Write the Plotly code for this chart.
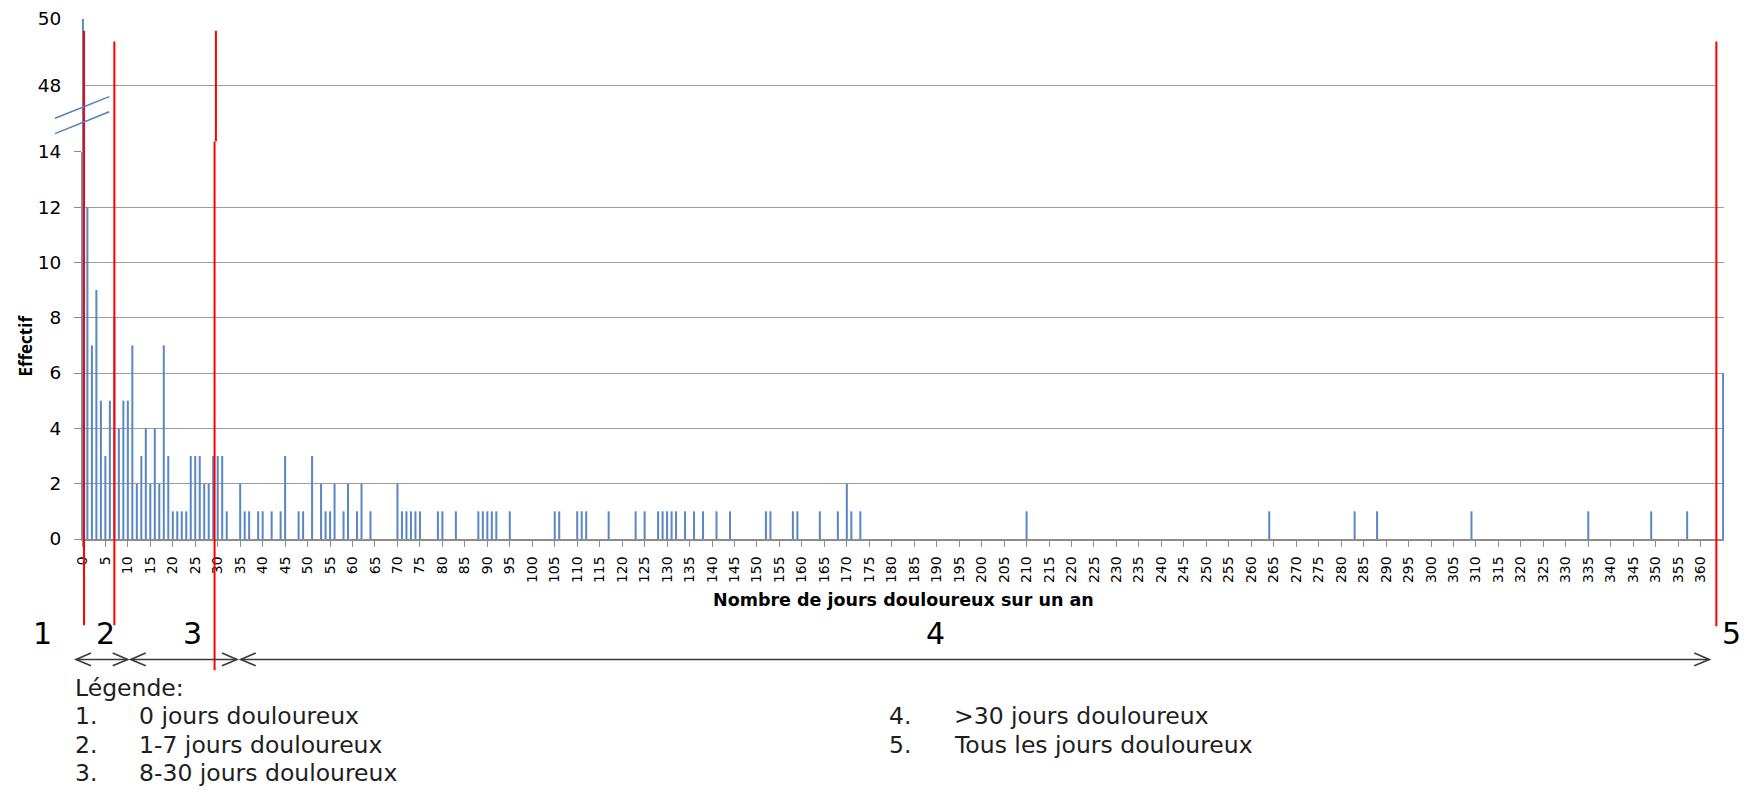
import plotly.graph_objects as go

# ---------------- data ----------------
days = [0, 1, 2, 3, 4, 5, 6, 7, 8, 9,
        10, 11, 12, 13, 14, 15, 16, 17, 18, 19,
        20, 21, 22, 23, 24, 25, 26, 27, 28, 29,
        30, 31, 32, 35, 36, 37, 39, 40, 42, 44,
        45, 48, 49, 51, 53, 54, 55, 56, 58, 59,
        61, 62, 64, 70, 71, 72, 73, 74, 75, 79,
        80, 83, 88, 89, 90, 91, 92, 95, 105, 106,
        110, 111, 112, 117, 123, 125, 128, 129, 130, 131,
        132, 134, 136, 138, 141, 144, 152, 153, 158, 159,
        164, 168, 170, 171, 173, 210, 264, 283, 288, 309,
        335, 349, 357, 365]
counts = [50, 12, 7, 9, 5, 3, 5, 8, 4, 5,
          5, 7, 2, 3, 4, 2, 4, 2, 7, 3,
          1, 1, 1, 1, 3, 3, 3, 2, 2, 3,
          3, 3, 1, 2, 1, 1, 1, 1, 1, 1,
          3, 1, 1, 3, 2, 1, 1, 2, 1, 2,
          1, 2, 1, 2, 1, 1, 1, 1, 1, 1,
          1, 1, 1, 1, 1, 1, 1, 1, 1, 1,
          1, 1, 1, 1, 1, 1, 1, 1, 1, 1,
          1, 1, 1, 1, 1, 1, 1, 1, 1, 1,
          1, 1, 2, 1, 1, 1, 1, 1, 1, 1,
          1, 1, 1, 6]
assert len(days) == len(counts)

x_tick_vals = list(range(0, 361, 5))
y_low_ticks = list(range(0, 15, 2))
y_high_ticks = [48, 50]
thresholds = [0.25, 7, 29.5, 363.5]          # red separators (in days)
group_labels = ["1", "2", "3", "4", "5"]
legend_left = ["0 jours douloureux", "1-7 jours douloureux", "8-30 jours douloureux"]
legend_right = [">30 jours douloureux", "Tous les jours douloureux"]

# ---------------- layout geometry ----------------
W, H = 1753, 795
L, R, T, B = 82, 29, 8, 256
PW, PH = W - L - R, H - T - B
X_RANGE = [-0.2, 365.2]
d1 = (H - B - 143.5) / PH          # lower panel top (value 14)
up_frac = (1717 - L) / PW           # upper panel is slightly narrower


def px(x):
    return (x - L) / PW


def py(y):
    return (H - B - y) / PH


BAR = "#5B87C5"
GRID = "#9C9C9C"
AX = "#8C8C8C"
RED = "#FF0000"

fig = go.Figure()
for xa, ya in (("x", "y"), ("x2", "y2")):
    fig.add_trace(go.Bar(x=days, y=counts, xaxis=xa, yaxis=ya, width=0.45,
                         marker=dict(color=BAR, line_width=0),
                         hoverinfo="x+y", showlegend=False))

shapes = []
# red separators
red_spans = [(thresholds[0], 20, 627), (thresholds[1], 31, 627),
             (thresholds[2] + 0.1, 20, 133), (thresholds[2] - 0.2, 133, 673),
             (thresholds[3], 31, 628)]
for xv, ytop, ybot in red_spans:
    shapes.append(dict(type="line", xref="x", yref="paper", x0=xv, x1=xv,
                       y0=py(ybot), y1=py(ytop), line=dict(color=RED, width=2),
                       layer="above"))

# axis-break marks
for (x0, y0, x1, y1) in [(55, 109.3, 109.3, 87.3), (55, 125, 109.3, 102.7)]:
    shapes.append(dict(type="line", xref="paper", yref="paper",
                       x0=px(x0), y0=py(y0), x1=px(x1), y1=py(y1),
                       line=dict(color="#4F81BD", width=1.5), layer="above"))

# double arrows
ARR_Y = 662
CH_L, CH_H = 15, 6.5


def chevron_path(xt, direction):
    xa = xt + direction * CH_L
    return (f"M{px(xa)},{py(ARR_Y - CH_H)} L{px(xt)},{py(ARR_Y)} "
            f"L{px(xa)},{py(ARR_Y + CH_H)}")


for (xa_, xb_) in [(76, 127.7), (130.7, 237), (240.7, 1709.3)]:
    shapes.append(dict(type="line", xref="paper", yref="paper",
                       x0=px(xa_), x1=px(xb_), y0=py(ARR_Y), y1=py(ARR_Y),
                       line=dict(color="#3A3A3A", width=1.6)))
    shapes.append(dict(type="path", xref="paper", yref="paper",
                       path=chevron_path(xa_, 1), line=dict(color="#3A3A3A", width=1.6)))
    shapes.append(dict(type="path", xref="paper", yref="paper",
                       path=chevron_path(xb_, -1), line=dict(color="#3A3A3A", width=1.6)))

annotations = []
# group numbers
for lab, xc in zip(group_labels, [42, 105, 192, 935, 1731.7]):
    annotations.append(dict(text=lab, x=px(xc), y=py(636), xref="paper", yref="paper",
                            xanchor="center", yanchor="middle", showarrow=False,
                            font=dict(family="DejaVu Sans", size=30, color="#000")))
# axis titles
annotations.append(dict(text="<b>Nombre de jours douloureux sur un an</b>",
                        x=px(903.5), y=py(601.5), xref="paper", yref="paper",
                        xanchor="center", yanchor="middle", showarrow=False,
                        font=dict(family="DejaVu Sans", size=17.5, color="#000")))
annotations.append(dict(text="<b>Effectif</b>", x=px(25.5), y=py(341),
                        xref="paper", yref="paper", textangle=-90,
                        xanchor="center", yanchor="middle", showarrow=False,
                        font=dict(family="Open Sans", size=17, color="#000")))
# legend block
LEG_FONT = dict(family="DejaVu Sans", size=23.5, color="#1E1E1E")
annotations.append(dict(text="Légende:", x=px(72.7), y=py(691), xref="paper", yref="paper",
                        xanchor="left", yanchor="middle", showarrow=False, font=LEG_FONT))
for i, txt in enumerate(legend_left):
    yy = 720 + 29 * i
    annotations.append(dict(text=f"{i + 1}.", x=px(72.7), y=py(yy), xref="paper", yref="paper",
                            xanchor="left", yanchor="middle", showarrow=False, font=LEG_FONT))
    annotations.append(dict(text=txt, x=px(137.3), y=py(yy), xref="paper", yref="paper",
                            xanchor="left", yanchor="middle", showarrow=False, font=LEG_FONT))
for i, txt in enumerate(legend_right):
    yy = 720 + 29 * i
    annotations.append(dict(text=f"{i + 4}.", x=px(886.7), y=py(yy), xref="paper", yref="paper",
                            xanchor="left", yanchor="middle", showarrow=False, font=LEG_FONT))
    annotations.append(dict(text=txt, x=px(951.7), y=py(yy), xref="paper", yref="paper",
                            xanchor="left", yanchor="middle", showarrow=False, font=LEG_FONT))

fig.update_layout(
    width=W, height=H,
    margin=dict(l=L, r=R, t=T, b=B, pad=0),
    paper_bgcolor="white", plot_bgcolor="white",
    showlegend=False,
    xaxis=dict(domain=[0, 1], range=X_RANGE, anchor="y",
               tickmode="array", tickvals=x_tick_vals,
               ticktext=[str(v) for v in x_tick_vals], tickangle=-90,
               ticks="outside", ticklen=6, tickcolor=AX, tickwidth=1,
               showline=True, linecolor=AX, linewidth=1.5,
               showgrid=False, zeroline=False, ticklabelstandoff=4,
               tickfont=dict(family="DejaVu Sans", size=14, color="#000")),
    yaxis=dict(domain=[0, d1], range=[0, 14], anchor="x",
               tickmode="array", tickvals=y_low_ticks,
               ticks="outside", ticklen=7, tickcolor=AX,
               showline=True, linecolor=AX, linewidth=1,
               showgrid=True, gridcolor=GRID, gridwidth=1.2, zeroline=False,
               ticklabelstandoff=9,
               tickfont=dict(family="DejaVu Sans", size=18.5, color="#000")),
    xaxis2=dict(domain=[0, up_frac],
                range=[X_RANGE[0], X_RANGE[0] + (X_RANGE[1] - X_RANGE[0]) * up_frac],
                anchor="y2", visible=False),
    yaxis2=dict(domain=[d1, 1], range=[46, 50], anchor="x2",
                tickmode="array", tickvals=y_high_ticks,
                ticks="outside", ticklen=7, tickcolor="rgba(0,0,0,0)",
                showline=False, showgrid=True, gridcolor=GRID, gridwidth=1.2,
                zeroline=False, ticklabelstandoff=9,
                tickfont=dict(family="DejaVu Sans", size=18.5, color="#000")),
    shapes=shapes,
    annotations=annotations,
)

fig.write_html("out.html", config={"displayModeBar": False},
               post_script="document.body.style.margin='0';")
